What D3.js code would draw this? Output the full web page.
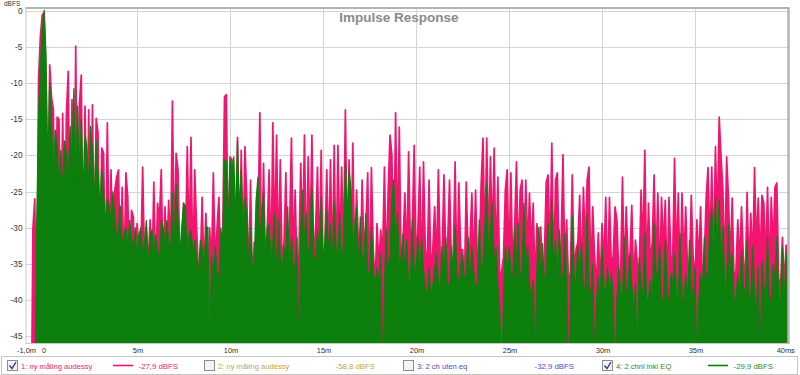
<!DOCTYPE html>
<html><head><meta charset="utf-8">
<script src="https://cdn.jsdelivr.net/npm/d3@7"></script>
<style>body{margin:0;background:#fff}svg{display:block;font-family:"Liberation Sans",Arial,sans-serif}</style>
</head><body><svg id="c" width="800" height="375"></svg>
<script>
// ---- data ----
const startTime = -1.0;   // ms
const sampleStep = 0.1;   // ms
const xTicks = [-1, 0, 5, 10, 15, 20, 25, 30, 35, 40];
const xTickLabels = ["-1,0m", "0", "5m", "10m", "15m", "20m", "25m", "30m", "35m", "40m"];
const yTicks = [0, -5, -10, -15, -20, -25, -30, -35, -40, -45];
const legendNames = ["1: ny måling audessy", "2: ny måling audessy", "3: 2 ch uten eq", "4: 2 chnl inkl EQ"];
const legendValues = ["-27,9 dBFS", "-58,8 dBFS", "-32,9 dBFS", "-29,9 dBFS"];
const legendChecked = [true, false, false, true];

// series 1 (pink) dBFS, one value per 0.1 ms from -1.0 ms
const pink = [
-60,-60,-60,-60,-30,-26,-50,-9.5,-3.6,-0.6,
-0.3,-9.6,-33,-7.5,-12,-13.7,-33,-14.7,-15,-32,
-14.2,-34,-14.2,-8.4,-36,-12.3,-35,-4.9,-33,-12.8,
-8.9,-36,-13.2,-32,-13.7,-35,-13,-33,-14.9,-16.9,
-35,-19,-19.7,-37,-15.5,-33,-22,-38,-24.8,-23,
-22,-36,-24.4,-36,-22.4,-25.8,-37,-27.6,-28.5,-38,
-29.4,-33,-34,-21.6,-35,-30.3,-35,-28.9,-37,-23.7,
-37,-26.6,-28.9,-22,-36,-27.1,-34,-26.2,-34,-12.5,
-33,-19.7,-22,-35,-35,-26.6,-33,-18.8,-33,-17.5,
-36,-22,-29.9,-36,-35,-25.8,-37,-28,-38,-30,
-35,-22.4,-35,-30,-25.8,-36,-32,-11.9,-11.6,-34,
-20.2,-20.6,-34,-30,-17.5,-35,-19.3,-33,-18.8,-25.8,
-37,-23.4,-38,-32,-33,-30,-14.1,-35,-21.1,-35,
-30,-22,-36,-15.5,-32,-17.2,-35,-20.6,-35,-32,
-22.4,-37,-30,-17.6,-34,-24.8,-36,-34,-21.1,-33,
-17.2,-36,-20.2,-32,-17.2,-35,-30,-21.6,-35,-19.3,
-37,-32,-22,-34,-20.6,-36,-18.6,-36,-18.6,-33,
-21.6,-33,-13.7,-34,-20.6,-35,-18.3,-35,-24.8,-32,
-37,-23.4,-33,-30,-22.4,-38,-21.7,-33,-38,-29.4,
-35,-30.3,-34,-21.6,-36,-25,-17.2,-19.9,-35,-14.1,
-32,-16.1,-36,-32,-25.2,-35,-19.5,-33,-30,-18.6,
-35,-30,-21.6,-37,-20.9,-33,-35,-23.4,-36,-33,
-27.1,-35,-22,-34,-34,-22.7,-34,-32,-23.4,-35,
-34,-20.9,-37,-23.8,-33,-33,-38,-23.7,-34,-32,
-25.2,-36,-24.8,-35,-34,-24,-17.6,-33,-17.6,-33,
-20.2,-32,-19,-35,-23,-37,-36,-34,-24.8,-22,
-35,-22.4,-36,-30,-20.9,-35,-24.8,-23.4,-36,-23.4,
-33,-25.2,-33,-26.6,-38,-29.4,-35,-29.9,-36,-34,
-23.7,-22.7,-34,-18.3,-36,-23.4,-22.4,-35,-32,-19.9,
-35,-28.9,-38,-36,-22.7,-36,-33,-32,-25.5,-37,
-24.4,-33,-23.4,-21.6,-37,-27.1,-34,-38,-30.7,-38,
-29.4,-35,-25.8,-38,-25.8,-35,-34,-27.1,-28.9,-36,
-36,-23,-37,-27.1,-34,-34,-26.9,-38,-31.7,-35,
-36,-24.8,-33,-19.3,-36,-26.6,-35,-32,-22.7,-35,
-25.2,-37,-25.8,-33,-26.2,-38,-25.8,-34,-34,-20.4,
-35,-25.2,-38,-25.2,-35,-27.1,-36,-36,-25.5,-34,
-37,-28.9,-35,-27.1,-38,-34,-25.8,-21.7,-33,-21.6,
-34,-18.8,-30,-14.7,-20.2,-24.8,-36,-20.2,-25.8,-35,
-25.9,-37,-36,-28.9,-35,-27.1,-34,-38,-25.1,-36,
-28,-35,-21.7,-33,-25.9,-35,-25.5,-26.6,-35,-24.4,
-36,-25.8,-33,-24.4,-23.8,-37,-38,-31.3,-38,-32.4,
-36
];

// series 4 (green) dBFS, one value per 0.1 ms from -1.0 ms
const green = [
-60,-60,-60,-60,-60,-60,-30,-15,-8,-3,
0,-6,-22,-10,-16,-24,-16.5,-18.8,-25,-19.3,
-26,-18,-20,-24,-16,-22,-10.8,-25,-13.2,-24,
-15,-26,-17,-19,-25,-16,-20,-27,-18,-22,
-28,-22,-25,-30,-26,-27,-29,-25,-28.5,-32,
-30,-27,-33,-31,-30,-34,-29,-31.6,-33,-30,
-35,-31,-30,-34,-32,-29,-36,-31,-30.3,-34,
-31,-33,-35,-29,-30,-33,-29,-32,-34,-25.3,
-33,-24,-29,-34,-30,-26.6,-27,-35,-31,-30.3,
-34,-31.7,-34,-37,-31.7,-33,-36,-30,-29.9,-50,
-34,-37,-32.6,-36,-38,-30,-33,-20.6,-21,-31,
-20.6,-22,-20.2,-30,-18.1,-28,-22,-32,-26,-28.5,
-36,-29.9,-36,-35,-26.2,-23,-33,-28,-25.2,-36,
-30,-29.4,-35,-32,-28,-38,-28.9,-34,-36,-32.6,
-34,-27.1,-37,-31.3,-36,-35,-31.3,-50,-30,-24.8,
-33,-28,-36,-30,-24.4,-35,-34,-30.3,-34,-25.8,
-35,-32,-27.6,-34,-29.4,-36,-26.6,-33,-34,-28,
-36,-32,-21.1,-30,-22,-24.8,-34,-30,-27.1,-37,
-28.5,-34,-35,-28,-36,-37,-29.9,-36,-38,-35.5,
-38,-33.6,-52,-38,-30.3,-36,-34,-26.2,-23.4,-33,
-28,-36,-34,-30.8,-37,-31.7,-38,-37,-28.9,-36,
-36,-31.3,-37,-31.7,-36,-38,-40,-35.5,-40,-38,
-36,-33.6,-38,-38,-32.6,-37,-31.3,-38,-38,-32.6,
-37,-29.9,-36,-38,-35,-33.6,-38,-36,-31.3,-39,
-32.6,-36,-38,-38,-28.9,-36,-35,-30,-23.8,-34,
-30,-26.6,-36,-32.6,-38,-41.4,-52,-40,-32.6,-37,
-32.6,-36,-38,-29.9,-36,-29.4,-38,-36,-26.6,-36,
-32.6,-38,-40,-37.3,-50,-36,-29.9,-37,-32.2,-38,
-36,-29.4,-37,-26.2,-36,-31.7,-38,-30.3,-36,-38,
-30.8,-37.3,-52,-40,-28.5,-37,-38,-32.6,-37,-32.2,
-39,-38,-28,-38,-40,-35,-50,-40,-36.8,-40,
-32.6,-38,-40,-35.5,-40,-36.4,-39.6,-52,-40,-35.5,
-39,-40,-31.3,-40,-38,-33.6,-38,-42,-37.8,-50,
-34.1,-38,-40,-30.8,-40,-40,-37.3,-41,-29.4,-37,
-36,-32.6,-40,-40,-31.7,-38,-42,-36.4,-38,-33.6,
-39,-40,-30.8,-40,-40,-36.4,-41,-31.7,-38,-40,
-35.5,-50,-40,-36.4,-39,-31.3,-38,-36,-29.9,-27.6,
-36,-25.8,-34,-26.2,-37,-29.9,-38,-38,-29.4,-37,
-33.6,-40,-40,-36.4,-41,-33.2,-38,-40,-31.7,-40,
-40,-32.6,-39,-42,-35.5,-50,-34.6,-38,-40,-31.3,
-40,-40,-35,-38,-31.3,-40,-40,-32.6,-41,-33.6,
-38
];

// ---- drawing ----
const svg = d3.select("#c");
const plot = {left: 25.5, right: 788, top: 8, bottom: 343};
const x = d3.scaleLinear().domain([-1, 40]).range([plot.left, plot.right]);
const y = d3.scaleLinear().domain([-45.9, 0.35]).range([plot.bottom, plot.top]);

svg.append("rect").attr("width", 800).attr("height", 375).attr("fill", "#fff");

// grid
const grid = svg.append("g");
grid.selectAll("line.v").data(xTicks.slice(1, -1)).join("line")
  .attr("x1", d => Math.round(x(d)) + 0.5).attr("x2", d => Math.round(x(d)) + 0.5)
  .attr("y1", plot.top).attr("y2", plot.bottom).attr("stroke", "#d4d4d4");
grid.selectAll("line.h").data(yTicks).join("line")
  .attr("x1", plot.left).attr("x2", plot.right)
  .attr("y1", d => Math.round(y(d)) + 0.5).attr("y2", d => Math.round(y(d)) + 0.5).attr("stroke", "#d4d4d4");

svg.append("clipPath").attr("id", "clip").append("rect")
  .attr("x", plot.left).attr("y", plot.top).attr("width", plot.right - plot.left).attr("height", plot.bottom - plot.top);

const xs = (d, i) => x(startTime + i * sampleStep);
const line = d3.line().x(xs).y(d => y(d));
const area = d3.area().x(xs).y0(plot.bottom + 5).y1(d => y(d));
const g = svg.append("g").attr("clip-path", "url(#clip)");
const series = [{data: pink, color: "#f2156f", w: 1.7}, {data: green, color: "#0d7f0d", w: 1.3}];
series.forEach(s => {
  g.append("path").datum(s.data).attr("d", area).attr("fill", s.color).attr("stroke", "none");
  g.append("path").datum(s.data).attr("d", line).attr("fill", "none")
    .attr("stroke", s.color).attr("stroke-width", s.w).attr("stroke-linejoin", "round");
});

// frame
svg.append("line").attr("x1", plot.left + 0.5).attr("x2", plot.left + 0.5).attr("y1", plot.top).attr("y2", plot.bottom).attr("stroke", "#c8c8c8");
svg.append("line").attr("x1", plot.left).attr("x2", plot.right).attr("y1", plot.bottom + 0.5).attr("y2", plot.bottom + 0.5).attr("stroke", "#c8c8c8");
svg.append("line").attr("x1", plot.left).attr("x2", plot.right + 1).attr("y1", plot.top).attr("y2", plot.top).attr("stroke", "#b4b4b4").attr("stroke-width", 2);
svg.append("line").attr("x1", plot.right + 0.5).attr("x2", plot.right + 0.5).attr("y1", plot.top - 1).attr("y2", plot.bottom + 1).attr("stroke", "#b4b4b4").attr("stroke-width", 2.5);

// axes labels
svg.append("g").selectAll("text").data(yTicks).join("text")
  .attr("x", 22.5).attr("y", d => y(d) + 3).attr("text-anchor", "end")
  .attr("font-size", 8.3).attr("fill", "#333").text(d => d === 0 ? "0" : d);
svg.append("text").attr("x", 4).attr("y", 5.5).attr("font-size", 6.5).attr("fill", "#333").text("dBFS");
svg.append("g").selectAll("text").data(xTicks).join("text")
  .attr("x", (d, i) => i === xTicks.length - 1 ? x(d) - 4 : x(d) + (i === 1 ? 0 : 1))
  .attr("y", 353).attr("text-anchor", "middle")
  .attr("font-size", 7.5).attr("fill", "#333").text((d, i) => xTickLabels[i]);
svg.append("text").attr("x", 791).attr("y", 353).attr("font-size", 7.5).attr("fill", "#333").text("s");

// title
svg.append("text").attr("x", 399).attr("y", 22).attr("text-anchor", "middle")
  .attr("font-size", 13.5).attr("font-weight", "bold").attr("fill", "#8a8a8a").text("Impulse Response");

// legend
const legendColors = ["#ee1a72", "#c9a443", "#4a48d6", "#2a8a2a"];
const lineColors = ["#f2156f", null, null, "#0d7f0d"];
const legendX = [7, 204, 403, 602];
const lg = svg.append("g");
lg.append("rect").attr("x", 1.5).attr("y", 356.5).attr("width", 796).attr("height", 18)
  .attr("fill", "#fff").attr("stroke", "#c4c4c4");
legendX.forEach((lx, i) => {
  const e = lg.append("g").attr("transform", `translate(${lx},0)`);
  e.append("rect").attr("x", 0.5).attr("y", 360.5).attr("width", 10).attr("height", 10)
    .attr("fill", "#f4f4f4").attr("stroke", "#8c8c8c");
  if (legendChecked[i]) {
    e.append("path").attr("d", "M2.5,365.5 L5,368.5 L9,362").attr("fill", "none")
      .attr("stroke", "#2a3f8f").attr("stroke-width", 1.4);
  }
  e.append("text").attr("x", 14).attr("y", 368.5).attr("font-size", 7.6).attr("fill", legendColors[i]).text(legendNames[i]);
  if (lineColors[i]) {
    e.append("line").attr("x1", 106).attr("x2", 126).attr("y1", 365.5).attr("y2", 365.5)
      .attr("stroke", lineColors[i]).attr("stroke-width", 1.6);
  }
  e.append("text").attr("x", 171).attr("y", 368.5).attr("font-size", 7.8).attr("text-anchor", "end")
    .attr("fill", legendColors[i]).text(legendValues[i]);
});
</script>
</body></html>
